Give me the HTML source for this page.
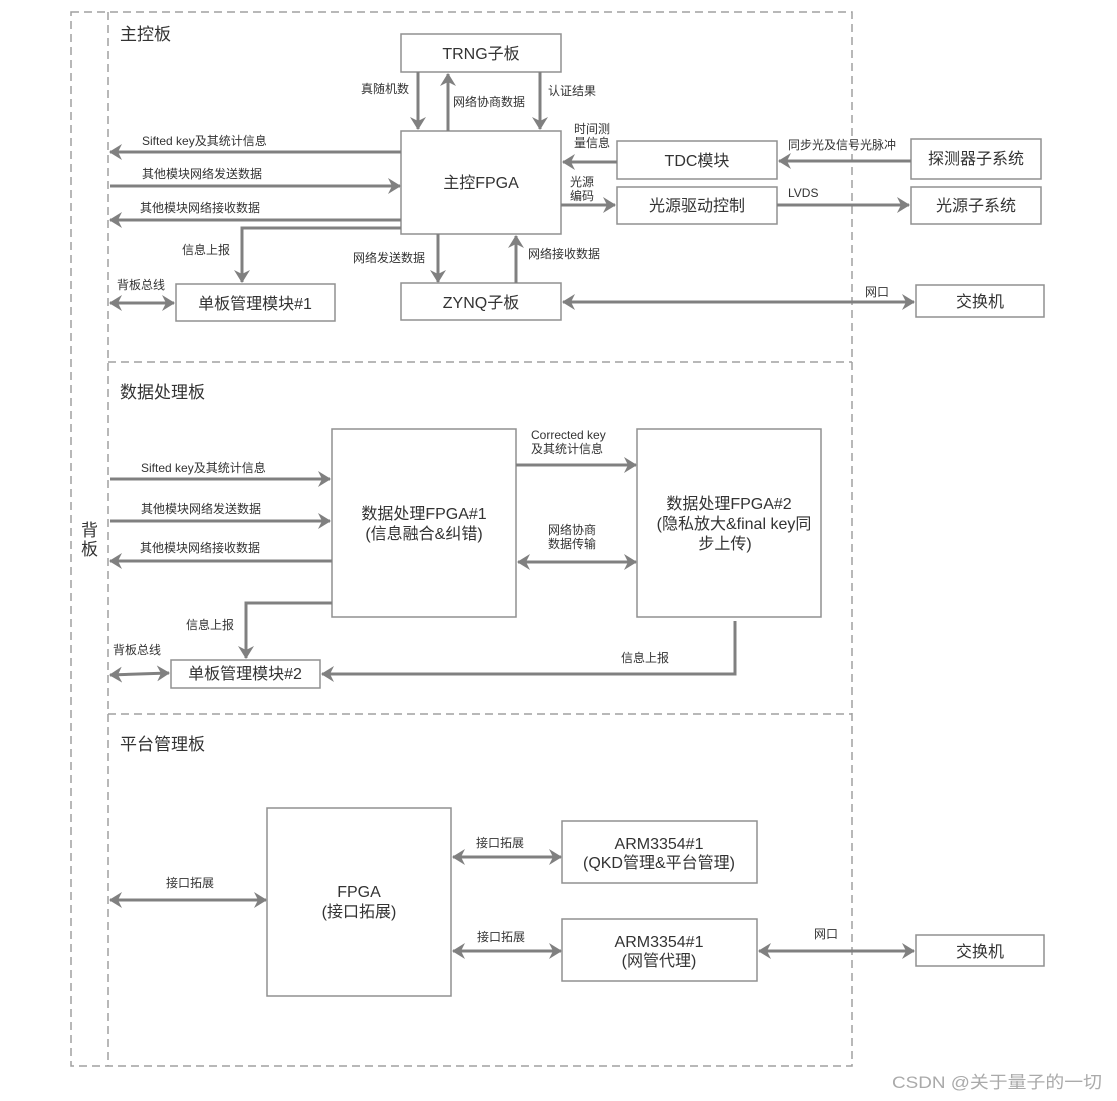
<!DOCTYPE html>
<html><head><meta charset="utf-8"><style>
html,body{margin:0;padding:0;background:#fff;}
svg{display:block;}
text{font-family:"Liberation Sans","Noto Sans CJK SC",sans-serif;fill:#333;}
</style></head><body>
<svg width="1117" height="1101" viewBox="0 0 1117 1101" xmlns="http://www.w3.org/2000/svg">
<defs>
<marker id="a" markerUnits="userSpaceOnUse" markerWidth="16" markerHeight="16" refX="12" refY="8" orient="auto-start-reverse">
<path d="M0,0 L13,8 L0,16 L4,8 Z" fill="#808080"/>
</marker>
</defs>
<g fill="none" stroke="#a0a0a0" stroke-width="1.5" stroke-dasharray="8,5">
<rect x="71" y="12" width="781" height="1054"/>
<line x1="108" y1="12" x2="108" y2="1066"/>
<line x1="108" y1="362" x2="852" y2="362"/>
<line x1="108" y1="714" x2="852" y2="714"/>
</g>
<g font-size="17">
<text x="120" y="40">主控板</text>
<text x="120" y="398">数据处理板</text>
<text x="120" y="750">平台管理板</text>
<text x="81" y="536">背</text>
<text x="81" y="555">板</text>
</g>
<g fill="#fff" stroke="#909090" stroke-width="1.5">
<rect x="401" y="34" width="160" height="38"/>
<rect x="401" y="131" width="160" height="103"/>
<rect x="617" y="141" width="160" height="38"/>
<rect x="617" y="187" width="160" height="37"/>
<rect x="911" y="139" width="130" height="40"/>
<rect x="911" y="187" width="130" height="37"/>
<rect x="401" y="283" width="160" height="37"/>
<rect x="176" y="284" width="159" height="37"/>
<rect x="916" y="285" width="128" height="32"/>
<rect x="332" y="429" width="184" height="188"/>
<rect x="637" y="429" width="184" height="188"/>
<rect x="171" y="660" width="149" height="28"/>
<rect x="267" y="808" width="184" height="188"/>
<rect x="562" y="821" width="195" height="62"/>
<rect x="562" y="919" width="195" height="62"/>
<rect x="916" y="935" width="128" height="31"/>
</g>
<g font-size="16" text-anchor="middle">
<text x="481" y="59">TRNG子板</text>
<text x="481" y="188">主控FPGA</text>
<text x="697" y="166">TDC模块</text>
<text x="697" y="211">光源驱动控制</text>
<text x="976" y="164">探测器子系统</text>
<text x="976" y="211">光源子系统</text>
<text x="481" y="308">ZYNQ子板</text>
<text x="255" y="309">单板管理模块#1</text>
<text x="980" y="307">交换机</text>
<text x="424" y="519">数据处理FPGA#1</text>
<text x="424" y="539">(信息融合&amp;纠错)</text>
<text x="729" y="509">数据处理FPGA#2</text>
<text x="734" y="529">(隐私放大&amp;final key同</text>
<text x="725" y="549">步上传)</text>
<text x="245" y="679">单板管理模块#2</text>
<text x="359" y="897">FPGA</text>
<text x="359" y="917">(接口拓展)</text>
<text x="659" y="849">ARM3354#1</text>
<text x="659" y="868">(QKD管理&amp;平台管理)</text>
<text x="659" y="947">ARM3354#1</text>
<text x="659" y="966">(网管代理)</text>
<text x="980" y="957">交换机</text>
</g>
<g stroke="#808080" stroke-width="3" fill="none" marker-end="url(#a)">
<line x1="418" y1="72" x2="418" y2="129"/>
<line x1="448" y1="131" x2="448" y2="74"/>
<line x1="540" y1="72" x2="540" y2="129"/>
<line x1="401" y1="152" x2="110" y2="152"/>
<line x1="110" y1="186" x2="400" y2="186"/>
<line x1="401" y1="220" x2="110" y2="220"/>
<polyline points="401,228 242,228 242,282"/>
<line x1="438" y1="234" x2="438" y2="282"/>
<line x1="516" y1="283" x2="516" y2="236"/>
<line x1="617" y1="162" x2="563" y2="162"/>
<line x1="561" y1="205" x2="615" y2="205"/>
<line x1="911" y1="161" x2="779" y2="161"/>
<line x1="777" y1="205" x2="909" y2="205"/>
<line x1="563" y1="302" x2="914" y2="302" marker-start="url(#a)"/>
<line x1="110" y1="303" x2="174" y2="303" marker-start="url(#a)"/>
<line x1="516" y1="465" x2="636" y2="465"/>
<line x1="518" y1="562" x2="636" y2="562" marker-start="url(#a)"/>
<line x1="110" y1="479" x2="330" y2="479"/>
<line x1="110" y1="521" x2="330" y2="521"/>
<line x1="332" y1="561" x2="110" y2="561"/>
<polyline points="332,603 246,603 246,658"/>
<line x1="110" y1="675" x2="169" y2="673" marker-start="url(#a)"/>
<polyline points="735,621 735,674 322,674"/>
<line x1="110" y1="900" x2="266" y2="900" marker-start="url(#a)"/>
<line x1="453" y1="857" x2="561" y2="857" marker-start="url(#a)"/>
<line x1="453" y1="951" x2="561" y2="951" marker-start="url(#a)"/>
<line x1="759" y1="951" x2="914" y2="951" marker-start="url(#a)"/>
</g>
<g font-size="12" fill="#333">
<text x="361" y="93">真随机数</text>
<text x="453" y="106">网络协商数据</text>
<text x="548" y="95">认证结果</text>
<text x="142" y="145">Sifted key及其统计信息</text>
<text x="142" y="178">其他模块网络发送数据</text>
<text x="140" y="212">其他模块网络接收数据</text>
<text x="182" y="254">信息上报</text>
<text x="353" y="262">网络发送数据</text>
<text x="528" y="258">网络接收数据</text>
<text x="574" y="133">时间测</text>
<text x="574" y="147">量信息</text>
<text x="570" y="186">光源</text>
<text x="570" y="200">编码</text>
<text x="788" y="149">同步光及信号光脉冲</text>
<text x="788" y="197">LVDS</text>
<text x="865" y="296">网口</text>
<text x="117" y="289">背板总线</text>
<text x="531" y="439">Corrected key</text>
<text x="531" y="453">及其统计信息</text>
<text x="548" y="534">网络协商</text>
<text x="548" y="548">数据传输</text>
<text x="141" y="472">Sifted key及其统计信息</text>
<text x="141" y="513">其他模块网络发送数据</text>
<text x="140" y="552">其他模块网络接收数据</text>
<text x="186" y="629">信息上报</text>
<text x="113" y="654">背板总线</text>
<text x="621" y="662">信息上报</text>
<text x="166" y="887">接口拓展</text>
<text x="476" y="847">接口拓展</text>
<text x="477" y="941">接口拓展</text>
<text x="814" y="938">网口</text>
</g>
<text x="892" y="1088" font-size="17" textLength="210" lengthAdjust="spacingAndGlyphs" style="fill:#aaa">CSDN @关于量子的一切</text>
</svg>
</body></html>
